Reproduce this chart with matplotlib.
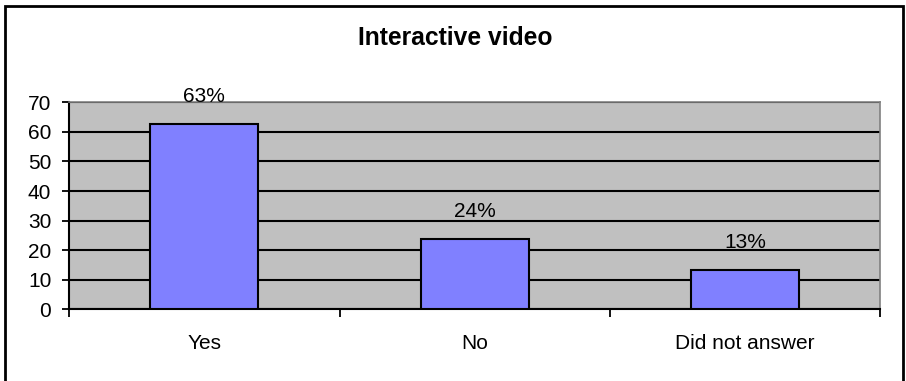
import matplotlib
matplotlib.use("Agg")
import matplotlib.pyplot as plt
from matplotlib.patches import Rectangle

plt.rcParams["font.family"] = ["Liberation Sans", "DejaVu Sans"]

categories = ["Yes", "No", "Did not answer"]
values = [62.7, 23.7, 13.4]
value_labels = ["63%", "24%", "13%"]
y_ticks = [0, 10, 20, 30, 40, 50, 60, 70]
title = "Interactive video"

fig = plt.figure(figsize=(9.06, 3.81), dpi=100)
ax = fig.add_axes([0.0765, 0.1877, 0.8948, 0.5438])

# plot area like the old Excel charts
ax.set_facecolor("#C0C0C0")
x = list(range(len(categories)))
ax.bar(x, values, width=0.4, color="#8080FF", edgecolor="black",
       linewidth=1.5, zorder=3)

for xi, v, lab in zip(x, values, value_labels):
    ax.annotate(lab, (xi, v), xytext=(0, 16), textcoords="offset points",
                ha="center", va="baseline", fontsize=15, zorder=4,
                annotation_clip=False)

ax.set_xlim(-0.5, len(categories) - 0.5)
ax.set_ylim(0, 70)
ax.set_yticks(y_ticks)
ax.set_yticklabels([str(t) for t in y_ticks], fontsize=15)
ax.set_xticks(x)
ax.set_xticklabels(categories, fontsize=15)
ax.set_xticks([i - 0.5 for i in range(len(categories) + 1)], minor=True)

ax.tick_params(axis="x", which="major", length=0, pad=18)
ax.tick_params(axis="x", which="minor", length=5.5, width=1.3,
               direction="out", color="black")
ax.tick_params(axis="y", length=5, width=1.3, direction="out", pad=8)

ax.yaxis.grid(True, color="black", linewidth=1.5, zorder=1)
ax.set_axisbelow(True)

for side in ["left", "bottom"]:
    ax.spines[side].set_color("black")
    ax.spines[side].set_linewidth(1.5)
for side in ["top", "right"]:
    ax.spines[side].set_color("#808080")
    ax.spines[side].set_linewidth(1.2)

fig.text(0.502, 0.882, title, ha="center", va="baseline",
         fontsize=17.7, fontweight="bold")

# outer chart border, bottom edge is cut off
border = Rectangle((5.2 / 906, -0.1), (902.8 - 5.2) / 906, 1.1 - 5.7 / 381,
                   transform=fig.transFigure, fill=False,
                   edgecolor="black", linewidth=2, clip_on=False)
fig.patches.append(border)

fig.savefig("out.png", dpi=100)
